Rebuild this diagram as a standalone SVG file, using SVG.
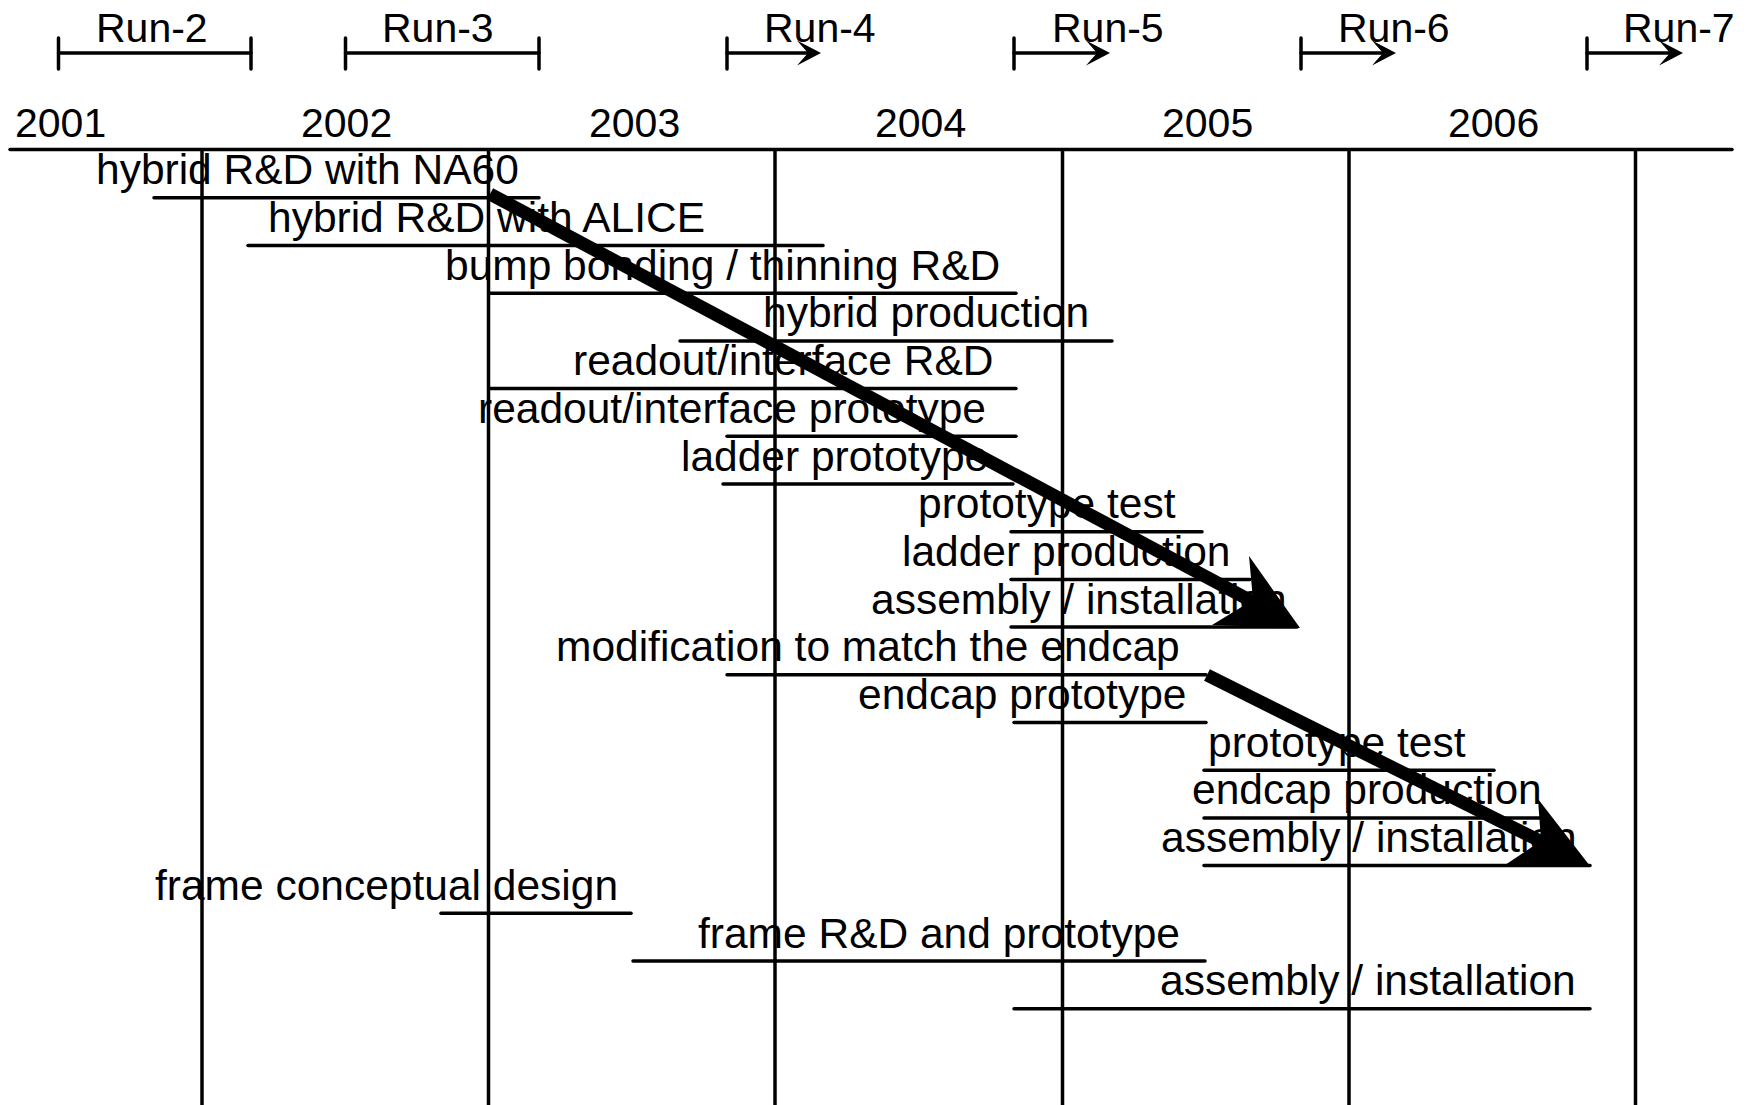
<svg xmlns="http://www.w3.org/2000/svg" xmlns:xlink="http://www.w3.org/1999/xlink" width="1752" height="1105" viewBox="0 0 1752 1105">
<style>
text{font-family:"Liberation Sans",Arial,sans-serif;fill:#000}
.t{font-size:42.5px}
.h{font-size:41px}
.ln{stroke:#000;stroke-width:3.5;fill:none;stroke-linecap:round}
.grid{stroke:#000;stroke-width:3.5;fill:none}
.big{stroke:#000;stroke-width:13;fill:none;stroke-linecap:butt}
</style>
<defs>
<path id="runHead" d="M0,0 L-24,-12.5 L-13,0 L-24,12.5 Z" fill="#000"/>
</defs>
<rect width="1752" height="1105" fill="#fff"/>
<g id="gridlines">
<line class="grid" x1="202" y1="149.5" x2="202" y2="1105"/>
<line class="grid" x1="488.5" y1="149.5" x2="488.5" y2="1105"/>
<line class="grid" x1="775" y1="149.5" x2="775" y2="1105"/>
<line class="grid" x1="1062.5" y1="149.5" x2="1062.5" y2="1105"/>
<line class="grid" x1="1349" y1="149.5" x2="1349" y2="1105"/>
<line class="grid" x1="1635.5" y1="149.5" x2="1635.5" y2="1105"/>
</g>
<g id="axis">
<line class="ln" x1="10" y1="149.5" x2="1732" y2="149.5"/>
<text class="h" x="15" y="137">2001</text>
<text class="h" x="301" y="137">2002</text>
<text class="h" x="589" y="137">2003</text>
<text class="h" x="875" y="137">2004</text>
<text class="h" x="1162" y="137">2005</text>
<text class="h" x="1448" y="137">2006</text>
</g>
<g id="run2">
<line class="ln" x1="58.5" y1="38" x2="58.5" y2="69"/>
<line class="ln" x1="251" y1="38" x2="251" y2="69"/>
<line class="ln" x1="58.5" y1="53" x2="251" y2="53"/>
<text class="h" x="96" y="42">Run-2</text>
</g>
<g id="run3">
<line class="ln" x1="345.5" y1="38" x2="345.5" y2="69"/>
<line class="ln" x1="539" y1="38" x2="539" y2="69"/>
<line class="ln" x1="345.5" y1="53" x2="539" y2="53"/>
<text class="h" x="382" y="42">Run-3</text>
</g>
<g id="run4">
<line class="ln" x1="727" y1="38" x2="727" y2="69"/>
<line class="ln" x1="727" y1="53" x2="810" y2="53"/>
<use xlink:href="#runHead" href="#runHead" x="821" y="53"/>
<text class="h" x="764" y="42">Run-4</text>
</g>
<g id="run5">
<line class="ln" x1="1014" y1="38" x2="1014" y2="69"/>
<line class="ln" x1="1014" y1="53" x2="1099" y2="53"/>
<use xlink:href="#runHead" href="#runHead" x="1110" y="53"/>
<text class="h" x="1052" y="42">Run-5</text>
</g>
<g id="run6">
<line class="ln" x1="1301" y1="38" x2="1301" y2="69"/>
<line class="ln" x1="1301" y1="53" x2="1385" y2="53"/>
<use xlink:href="#runHead" href="#runHead" x="1396" y="53"/>
<text class="h" x="1338" y="42">Run-6</text>
</g>
<g id="run7">
<line class="ln" x1="1587" y1="38" x2="1587" y2="69"/>
<line class="ln" x1="1587" y1="53" x2="1672" y2="53"/>
<use xlink:href="#runHead" href="#runHead" x="1683" y="53"/>
<text class="h" x="1623" y="42">Run-7</text>
</g>
<g id="task1"><text class="t" x="96" y="184">hybrid R&amp;D with NA60</text><line class="ln" x1="154" y1="197.8" x2="539" y2="197.8"/></g>
<g id="task2"><text class="t" x="268" y="232">hybrid R&amp;D with ALICE</text><line class="ln" x1="248" y1="245.5" x2="823" y2="245.5"/></g>
<g id="task3"><text class="t" x="445" y="279.7">bump bonding / thinning R&amp;D</text><line class="ln" x1="490" y1="293.2" x2="1016" y2="293.2"/></g>
<g id="task4"><text class="t" x="763" y="327.4">hybrid production</text><line class="ln" x1="680" y1="340.9" x2="1112" y2="340.9"/></g>
<g id="task5"><text class="t" x="573" y="375.1">readout/interface R&amp;D</text><line class="ln" x1="490" y1="388.6" x2="1016" y2="388.6"/></g>
<g id="task6"><text class="t" x="478" y="422.8">readout/interface prototype</text><line class="ln" x1="727" y1="436.3" x2="1016" y2="436.3"/></g>
<g id="task7"><text class="t" x="681" y="470.5">ladder prototype</text><line class="ln" x1="723" y1="484" x2="1013" y2="484"/></g>
<g id="task8"><text class="t" x="918" y="518.2">prototype test</text><line class="ln" x1="1011" y1="531.7" x2="1202" y2="531.7"/></g>
<g id="task9"><text class="t" x="902" y="565.9">ladder production</text><line class="ln" x1="1011" y1="579.4" x2="1250" y2="579.4"/></g>
<g id="task10"><text class="t" x="871" y="613.6">assembly / installation</text><line class="ln" x1="1011" y1="627.1" x2="1297" y2="627.1"/></g>
<g id="task11"><text class="t" x="556" y="661.3">modification to match the endcap</text><line class="ln" x1="727" y1="674.8" x2="1206" y2="674.8"/></g>
<g id="task12"><text class="t" x="858" y="709">endcap prototype</text><line class="ln" x1="1014" y1="722.5" x2="1206" y2="722.5"/></g>
<g id="task13"><text class="t" x="1208" y="756.7">prototype test</text><line class="ln" x1="1204" y1="770.2" x2="1494" y2="770.2"/></g>
<g id="task14"><text class="t" x="1192" y="804.4">endcap production</text><line class="ln" x1="1204" y1="817.9" x2="1542" y2="817.9"/></g>
<g id="task15"><text class="t" x="1161" y="852.1">assembly / installation</text><line class="ln" x1="1204" y1="865.6" x2="1590" y2="865.6"/></g>
<g id="task16"><text class="t" x="155" y="899.8">frame conceptual design</text><line class="ln" x1="441" y1="913.3" x2="631" y2="913.3"/></g>
<g id="task17"><text class="t" x="698" y="947.5">frame R&amp;D and prototype</text><line class="ln" x1="633" y1="961" x2="1205" y2="961"/></g>
<g id="task18"><text class="t" x="1160" y="995.2">assembly / installation</text><line class="ln" x1="1014" y1="1008.7" x2="1590" y2="1008.7"/></g>
<g id="connectors">
<line class="big" x1="490" y1="194" x2="1256" y2="603.5"/>
<polygon points="1300,628 1249,556 1253,600 1212,625" fill="#000"/>
<line class="big" x1="1207" y1="675" x2="1545" y2="843.5"/>
<polygon points="1590,866 1538,799 1541,841 1505,865" fill="#000"/>
</g>
</svg>
